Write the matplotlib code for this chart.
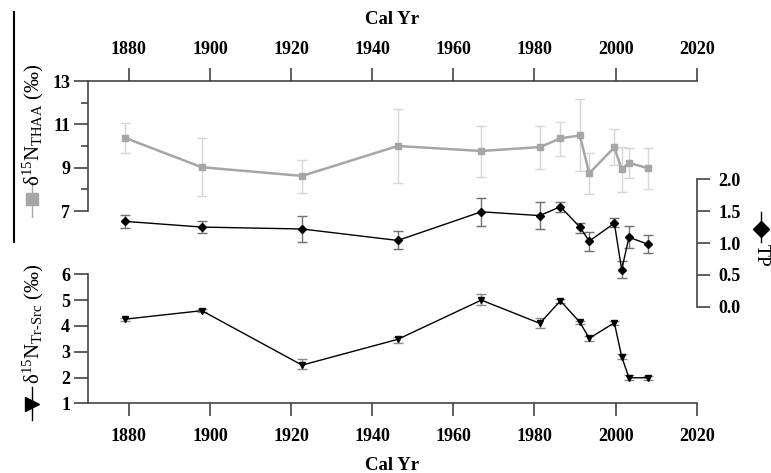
import numpy as np
import matplotlib.pyplot as plt
from matplotlib.lines import Line2D

plt.rcParams['font.family'] = 'Liberation Serif'
plt.rcParams['font.weight'] = 'bold'
plt.rcParams['mathtext.fontset'] = 'custom'
plt.rcParams['mathtext.rm'] = 'Liberation Serif:weight=normal'
plt.rcParams['mathtext.it'] = 'Liberation Serif:style=italic:weight=normal'
plt.rcParams['mathtext.bf'] = 'Liberation Serif:weight=bold'

# data
years = [1879, 1898, 1922.7, 1946.3, 1966.9, 1981.3, 1986.4, 1991.2, 1993.5, 1999.7, 2001.5, 2003.3, 2008]

thaa = [10.38, 9.02, 8.62, 10.0, 9.77, 9.95, 10.35, 10.49, 8.74, 9.94, 8.92, 9.23, 8.97]
thaa_lo = [9.69, 7.69, 7.85, 8.31, 8.58, 8.92, 9.55, 8.86, 7.78, 9.12, 7.89, 8.51, 8.03]
thaa_hi = [11.08, 10.38, 9.35, 11.71, 10.94, 10.94, 11.12, 12.16, 9.66, 10.77, 9.97, 9.92, 9.89]

tp = [1.34, 1.25, 1.22, 1.04, 1.49, 1.43, 1.57, 1.25, 1.03, 1.31, 0.58, 1.09, 0.98]
tp_lo = [1.23, 1.15, 1.02, 0.90, 1.27, 1.22, 1.48, 1.15, 0.88, 1.25, 0.45, 0.92, 0.84]
tp_hi = [1.44, 1.34, 1.42, 1.19, 1.70, 1.64, 1.65, 1.32, 1.18, 1.39, 0.71, 1.26, 1.12]

trsrc = [4.26, 4.59, 2.48, 3.48, 5.00, 4.10, 4.97, 4.14, 3.52, 4.12, 2.81, 1.99, 1.99]
trsrc_lo = [4.20, 4.55, 2.32, 3.33, 4.80, 3.93, 4.88, 4.08, 3.42, 4.05, 2.70, 1.89, 1.92]
trsrc_hi = [4.32, 4.64, 2.72, 3.58, 5.22, 4.29, 5.06, 4.20, 3.62, 4.18, 2.92, 2.09, 2.06]

year_ticks = [1880, 1900, 1920, 1940, 1960, 1980, 2000, 2020]

W, H = 771, 473
fig = plt.figure(figsize=(W / 100, H / 100), dpi=100)


def box(x0, ytop, x1, ybot):
    return [x0 / W, 1 - ybot / H, (x1 - x0) / W, (ybot - ytop) / H]


def yerr(v, lo, hi):
    v, lo, hi = np.array(v), np.array(lo), np.array(hi)
    return [v - lo, hi - v]


spine_col = '#444444'
ax1 = fig.add_axes(box(88.3, 81, 696.7, 211))
ax2 = fig.add_axes(box(88.3, 179.3, 696.7, 306.7))
ax3 = fig.add_axes(box(88.3, 274.3, 696.7, 403.3))

for ax in (ax1, ax2, ax3):
    ax.patch.set_visible(False)
    ax.set_xlim(1870, 2020)
    for s in ax.spines.values():
        s.set_visible(False)
        s.set_color(spine_col)
        s.set_linewidth(1.2)
    ax.tick_params(which='both', color=spine_col, width=1.2, labelsize=13)

# top panel: THAA
ax1.errorbar(years, thaa, yerr=yerr(thaa, thaa_lo, thaa_hi), color='#a6a6a6', ecolor='#d6d6d6',
             elinewidth=1, capsize=3.5, capthick=1, marker='s', markersize=5, lw=1.8)
ax1.set_ylim(7, 13)
ax1.set_yticks([7, 9, 11, 13])
ax1.set_yticks([8, 10, 12], minor=True)
ax1.spines['left'].set_visible(True)
ax1.spines['top'].set_visible(True)
ax1.xaxis.tick_top()
ax1.set_xticks(year_ticks)
ax1.tick_params(axis='x', direction='out', length=9.5, pad=7)
ax1.tick_params(axis='y', which='major', direction='out', length=10, pad=3)
ax1.tick_params(axis='y', which='minor', direction='out', length=5)

# middle panel: TP
ax2.errorbar(years, tp, yerr=yerr(tp, tp_lo, tp_hi), color='black', ecolor='#707070',
             elinewidth=1, capsize=3.5, capthick=1, marker='D', markersize=4.5, lw=1)
ax2.set_ylim(0, 2)
ax2.set_yticks([0, 0.5, 1.0, 1.5, 2.0])
ax2.set_yticklabels(['0.0', '0.5', '1.0', '1.5', '2.0'])
ax2.spines['right'].set_visible(True)
ax2.yaxis.tick_right()
ax2.set_xticks([])
ax2.tick_params(axis='y', direction='out', length=9.5, pad=6)

# bottom panel: Tr-Src
ax3.errorbar(years, trsrc, yerr=yerr(trsrc, trsrc_lo, trsrc_hi), color='black', ecolor='#8a8a8a',
             elinewidth=1, capsize=3.5, capthick=1, marker='v', markersize=5, lw=1)
ax3.set_ylim(1, 6)
ax3.set_yticks([1, 2, 3, 4, 5, 6])
ax3.spines['left'].set_visible(True)
ax3.spines['bottom'].set_visible(True)
ax3.set_xticks(year_ticks)
ax3.tick_params(axis='x', direction='out', length=9.5, pad=8)
ax3.tick_params(axis='y', direction='out', length=10, pad=3)

# axis titles
fig.text(392.5 / W, 1 - 20 / H, 'Cal Yr', ha='center', va='center', fontsize=13.5, fontweight='bold')
fig.text(392.5 / W, 1 - 465 / H, 'Cal Yr', ha='center', va='center', fontsize=13.5, fontweight='bold')

fig.text(33 / W, 1 - 125 / H, 'δ$^{15}$N$_{\\mathrm{THAA}}$ (‰)', rotation=90,
         ha='center', va='center', fontsize=15, fontweight='normal')
fig.text(33 / W, 1 - 324 / H, 'δ$^{15}$N$_{\\mathrm{Tr\\text{-}Src}}$ (‰)', rotation=90,
         ha='center', va='center', fontsize=15, fontweight='normal')
fig.text(761 / W, 1 - 255 / H, 'TP', rotation=270, ha='center', va='center', fontsize=14,
         fontweight='normal')


def handle(x, y0, y1, ym, color, marker, ms):
    fig.add_artist(Line2D([x / W, x / W], [1 - y0 / H, 1 - y1 / H], transform=fig.transFigure,
                          color=color, lw=1))
    fig.add_artist(Line2D([x / W], [1 - ym / H], transform=fig.transFigure, color=color,
                          marker=marker, markersize=ms, linestyle='none'))


handle(31.5, 182, 217, 199, '#a6a6a6', 's', 8.5)
handle(31.5, 387, 420, 404, 'black', '>', 10)
handle(760.7, 212, 242, 229, 'black', 'D', 8)

# frame line on the left edge
fig.add_artist(Line2D([14 / W, 14 / W], [1 - 12 / H, 1 - 242 / H], transform=fig.transFigure,
                      color='black', lw=1.5))

fig.savefig('out.png', dpi=100)
